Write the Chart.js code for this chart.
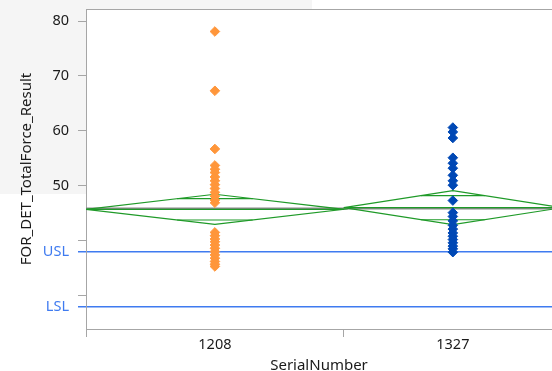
<!DOCTYPE html>
<html>
<head>
<meta charset="utf-8">
<script src="https://cdn.jsdelivr.net/npm/chart.js@4.4.1/dist/chart.umd.min.js"></script>
<style>
  html, body { margin: 0; padding: 0; background: #fff; overflow: hidden; }
  canvas { display: block; }
</style>
</head>
<body>
<canvas id="chart" width="552" height="371"></canvas>
<script>
// groups on the x axis, column width follows the sample size
const categories = ['1208', '1327'];
const counts = [26, 22];

const values1208 = [78.1, 67.3, 56.7, 53.7, 53.0, 52.4, 51.6, 50.9, 50.2, 49.5, 48.8, 48.1, 47.4, 46.9,
  41.5, 40.9, 40.3, 39.8, 39.2, 38.6, 38.0, 37.4, 36.8, 36.2, 35.7, 35.3];
const values1327 = [60.6, 59.8, 58.7, 55.1, 54.1, 53.2, 51.9, 50.9, 50.1, 47.3, 45.1, 44.4, 43.6, 42.8,
  42.1, 41.4, 40.8, 40.2, 39.6, 39.0, 38.5, 37.9];

// means diamonds (mean, 95% CI half width) and grand mean
const groupMeans = [45.7, 46.0];
const ciHalf = [2.75, 3.1];
const grandMean = 45.85;

// spec limits and y ticks
const specNames = ['USL', 'LSL'];
const specValues = [38, 28];
const yTicks = [30, 40, 50, 60, 70, 80];
const yLabelled = [50, 60, 70, 80];

const ORANGE = '#ff963a';
const BLUE = '#0048b5';
const GREEN = '#1f9a28';
const SPEC = '#3f7bf0';
const AXIS = '#a6a6a6';
const TEXT = '#1a1a1a';
const FONT = "'Noto Sans', sans-serif";

const xMax = 47;
const lefts = [0, counts[0]];
const centers = lefts.map((l, i) => l + counts[i] / 2);
const rights = lefts.map((l, i) => l + counts[i]);

function diamond(i) {
  const m = groupMeans[i], h = ciHalf[i];
  return [
    { x: lefts[i], y: m }, { x: centers[i], y: m + h }, { x: rights[i], y: m },
    { x: centers[i], y: m - h }, { x: lefts[i], y: m }
  ];
}
function overlapMarks(i) {
  const m = groupMeans[i], o = ciHalf[i] / Math.SQRT2;
  const half = counts[i] / 2 * (1 - Math.SQRT1_2);
  return [
    { x: centers[i] - half, y: m + o }, { x: centers[i] + half, y: m + o },
    { x: centers[i], y: null },
    { x: centers[i] - half, y: m - o }, { x: centers[i] + half, y: m - o }
  ];
}
function lineSet(data, color, width, order) {
  return { data, showLine: true, borderColor: color, borderWidth: width, pointRadius: 0,
    fill: false, tension: 0, spanGaps: false, order };
}
function pointSet(label, vals, i, color) {
  return { label, data: vals.map(v => ({ x: centers[i], y: v })), pointStyle: 'rectRot',
    pointRadius: 4.8, borderWidth: 1, backgroundColor: color, borderColor: color, order: 0 };
}

const backdrop = {
  id: 'backdrop',
  beforeDraw(chart) {
    const { ctx, chartArea: a } = chart;
    ctx.save();
    ctx.fillStyle = '#f5f5f5';
    ctx.fillRect(0, 0, 312, 194);
    ctx.fillStyle = '#fff';
    ctx.fillRect(a.left, a.top, a.right - a.left, a.bottom - a.top);
    ctx.strokeStyle = AXIS;
    ctx.lineWidth = 1;
    ctx.beginPath();
    ctx.moveTo(a.left, a.top + 0.5);
    ctx.lineTo(a.right, a.top + 0.5);
    ctx.stroke();
    ctx.restore();
  }
};

const isSpec = v => specValues.includes(v);

new Chart(document.getElementById('chart'), {
  type: 'scatter',
  data: {
    datasets: [
      pointSet(categories[0], values1208, 0, ORANGE),
      pointSet(categories[1], values1327, 1, BLUE),
      lineSet(diamond(0), GREEN, 1.2, 2),
      lineSet(diamond(1), GREEN, 1.2, 2),
      lineSet(overlapMarks(0), GREEN, 1.2, 2),
      lineSet(overlapMarks(1), GREEN, 1.2, 2),
      lineSet([{ x: lefts[0], y: groupMeans[0] }, { x: rights[0], y: groupMeans[0] }], GREEN, 1.2, 2),
      lineSet([{ x: lefts[1], y: groupMeans[1] }, { x: rights[1], y: groupMeans[1] }], GREEN, 1.2, 2),
      lineSet([{ x: 0, y: grandMean }, { x: xMax, y: grandMean }], '#8a8a8a', 2, 3)
    ]
  },
  options: {
    responsive: false,
    animation: false,
    events: [],
    layout: { autoPadding: false, padding: { top: 9, left: 0, right: 0, bottom: 0 } },
    plugins: { legend: { display: false }, tooltip: { enabled: false } },
    scales: {
      x: {
        type: 'linear', min: 0, max: xMax,
        afterFit: s => { s.height = 42; },
        afterBuildTicks: s => {
          s.ticks = [lefts[0], centers[0], lefts[1], centers[1]].map(v => ({ value: v }));
        },
        ticks: {
          autoSkip: false, maxRotation: 0, padding: -1, color: TEXT,
          font: { family: FONT, size: 14.5 },
          callback: v => { const i = centers.indexOf(v); return i >= 0 ? categories[i] : ''; }
        },
        grid: {
          drawOnChartArea: false, tickLength: 8,
          tickColor: ctx => (ctx.tick && lefts.includes(ctx.tick.value)) ? AXIS : 'rgba(0,0,0,0)'
        },
        border: { color: AXIS, width: 1 },
        title: { display: true, text: 'SerialNumber', color: TEXT,
          font: { family: FONT, size: 15 }, padding: { top: 0, bottom: -4 } }
      },
      y: {
        min: 23.9, max: 82.2,
        afterFit: s => { s.width = 86; s.paddingTop = 0; s.paddingBottom = 0; },
        afterBuildTicks: s => {
          s.ticks = [...yTicks, ...specValues].sort((a, b) => a - b).map(v => ({ value: v }));
        },
        ticks: {
          autoSkip: false, padding: 9,
          font: { family: FONT, size: 14.5 },
          color: ctx => (ctx.tick && isSpec(ctx.tick.value)) ? SPEC : TEXT,
          callback: v => {
            const i = specValues.indexOf(v);
            if (i >= 0) return specNames[i];
            return yLabelled.includes(v) ? String(v) : '';
          }
        },
        grid: {
          tickLength: 8,
          color: ctx => (ctx.tick && isSpec(ctx.tick.value)) ? SPEC : 'rgba(0,0,0,0)',
          tickColor: ctx => (ctx.tick && isSpec(ctx.tick.value)) ? SPEC : AXIS,
          lineWidth: ctx => (ctx.tick && isSpec(ctx.tick.value)) ? 1.5 : 1
        },
        border: { color: AXIS, width: 1 },
        title: { display: true, text: 'FOR_DET_TotalForce_Result', color: TEXT,
          font: { family: FONT, size: 15 }, padding: { top: 18, bottom: 0 } }
      }
    }
  },
  plugins: [backdrop]
});
</script>
</body>
</html>
